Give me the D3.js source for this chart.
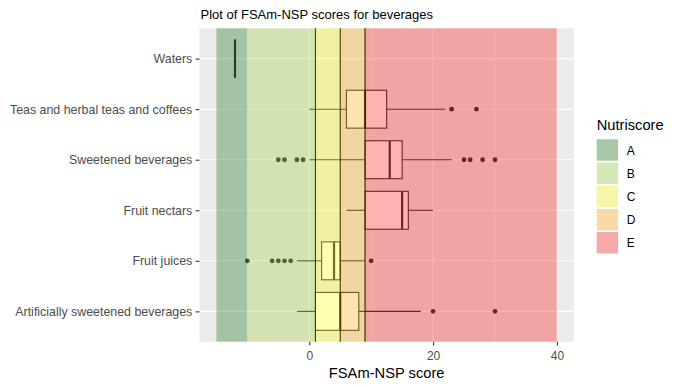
<!DOCTYPE html>
<html>
<head>
<meta charset="utf-8">
<script src="https://cdn.jsdelivr.net/npm/d3@7"></script>
<style>
    body { margin: 0; background: #ffffff; }
    text { font-family: "Liberation Sans", Arial, sans-serif; }
</style>
</head>
<body>
<div class="chart"></div>
<script>
// boxplot summaries (FSAm-NSP score)
var categories = ["Waters", "Teas and herbal teas and coffees", "Sweetened beverages",
    "Fruit nectars", "Fruit juices", "Artificially sweetened beverages"];
var lowWhisker = [-12, 0, 0, 6, -2, -2];
var q1 = [-12, 6, 9, 9, 2, 1];
var median = [-12, 9, 13, 15, 4, 5];
var q3 = [-12, 12.5, 15, 16, 5, 8];
var highWhisker = [-12, 22, 23, 20, 9, 18];
var outliers = [[], [23, 27], [-5, -4, -2, -1, 25, 26, 28, 30], [], [-10, -6, -5, -4, -3, 10], [20, 30]];

// nutriscore bands
var grades = ["A", "B", "C", "D", "E"];
var bandStart = [-15, -10, 1, 5, 9];
var bandEnd = [-10, 1, 5, 9, 40];
var bandColors = ["darkgreen", "yellowgreen", "yellow", "orange", "red"];
var cutLines = [1, 5, 9];

var xTicks = [0, 20, 40];
var xMinor = [-10, 10, 30];

var width = 679, height = 388;
var panel = { left: 199.4, right: 573.9, top: 28.3, bottom: 341.7 };

var svg = d3.select(".chart")
    .append("svg")
    .attr("width", width)
    .attr("height", height);

var x = d3.scaleLinear()
    .domain([-17.75, 42.75])
    .range([panel.left, panel.right]);

var y = d3.scalePoint()
    .domain(categories)
    .range([panel.top, panel.bottom])
    .padding(0.6);

var boxH = y.step() * 0.75;

// panel background + grid
svg.append("rect")
    .attr("x", panel.left).attr("y", panel.top)
    .attr("width", panel.right - panel.left)
    .attr("height", panel.bottom - panel.top)
    .attr("fill", "#ebebeb");

svg.selectAll(".minor")
    .data(xMinor)
    .enter().append("line")
    .attr("x1", d => x(d)).attr("x2", d => x(d))
    .attr("y1", panel.top).attr("y2", panel.bottom)
    .attr("stroke", "#ffffff").attr("stroke-width", 0.55);

svg.selectAll(".major")
    .data(xTicks)
    .enter().append("line")
    .attr("x1", d => x(d)).attr("x2", d => x(d))
    .attr("y1", panel.top).attr("y2", panel.bottom)
    .attr("stroke", "#ffffff").attr("stroke-width", 1.1);

svg.selectAll(".hgrid")
    .data(categories)
    .enter().append("line")
    .attr("x1", panel.left).attr("x2", panel.right)
    .attr("y1", d => y(d)).attr("y2", d => y(d))
    .attr("stroke", "#ffffff").attr("stroke-width", 1.1);

// boxplots
var boxColor = "#333333";
var boxes = svg.selectAll(".box")
    .data(categories)
    .enter().append("g");

boxes.append("line")
    .attr("x1", (d, i) => x(lowWhisker[i])).attr("x2", (d, i) => x(q1[i]))
    .attr("y1", d => y(d)).attr("y2", d => y(d))
    .attr("stroke", boxColor).attr("stroke-width", 1.1);

boxes.append("line")
    .attr("x1", (d, i) => x(q3[i])).attr("x2", (d, i) => x(highWhisker[i]))
    .attr("y1", d => y(d)).attr("y2", d => y(d))
    .attr("stroke", boxColor).attr("stroke-width", 1.1);

boxes.append("rect")
    .attr("x", (d, i) => x(q1[i]))
    .attr("y", d => y(d) - boxH / 2)
    .attr("width", (d, i) => Math.max(x(q3[i]) - x(q1[i]), 0.01))
    .attr("height", boxH)
    .attr("fill", "#ffffff")
    .attr("stroke", boxColor).attr("stroke-width", 1.1);

boxes.append("line")
    .attr("x1", (d, i) => x(median[i])).attr("x2", (d, i) => x(median[i]))
    .attr("y1", d => y(d) - boxH / 2).attr("y2", d => y(d) + boxH / 2)
    .attr("stroke", boxColor).attr("stroke-width", 2.2);

boxes.selectAll("circle")
    .data((d, i) => outliers[i].map(v => ({ cat: d, v: v })))
    .enter().append("circle")
    .attr("cx", d => x(d.v))
    .attr("cy", d => y(d.cat))
    .attr("r", 2.4)
    .attr("fill", boxColor);

// cut lines between grades
svg.selectAll(".cut")
    .data(cutLines)
    .enter().append("line")
    .attr("x1", d => x(d)).attr("x2", d => x(d))
    .attr("y1", panel.top).attr("y2", panel.bottom)
    .attr("stroke", "#000000").attr("stroke-width", 1.1);

// translucent nutriscore bands on top
svg.selectAll(".band")
    .data(grades)
    .enter().append("rect")
    .attr("x", (d, i) => x(bandStart[i]))
    .attr("width", (d, i) => x(bandEnd[i]) - x(bandStart[i]))
    .attr("y", panel.top)
    .attr("height", panel.bottom - panel.top)
    .attr("fill", (d, i) => bandColors[i])
    .attr("opacity", 0.3);

// axes
var xAxis = d3.axisBottom(x).tickValues(xTicks).tickSize(3.7).tickPadding(6);
var gx = svg.append("g")
    .attr("transform", "translate(0," + panel.bottom + ")")
    .call(xAxis);
gx.select(".domain").remove();
gx.selectAll("line").attr("stroke", "#333333").attr("stroke-width", 1.1);
gx.selectAll("text").attr("fill", "#4d4d4d").style("font-size", "12px")
    .style("font-family", "'Liberation Sans', Arial, sans-serif");

var yAxis = d3.axisLeft(y).tickSize(3.7).tickPadding(3.4);
var gy = svg.append("g")
    .attr("transform", "translate(" + panel.left + ",0)")
    .call(yAxis);
gy.select(".domain").remove();
gy.selectAll("line").attr("stroke", "#333333").attr("stroke-width", 1.1);
gy.selectAll("text").attr("fill", "#4d4d4d").style("font-size", "12.4px")
    .style("font-family", "'Liberation Sans', Arial, sans-serif");

// titles
svg.append("text")
    .attr("x", 200.5).attr("y", 19)
    .style("font-size", "13px")
    .attr("fill", "#000000")
    .text("Plot of FSAm-NSP scores for beverages");

svg.append("text")
    .attr("x", (panel.left + panel.right) / 2).attr("y", 377.5)
    .attr("text-anchor", "middle")
    .style("font-size", "14.7px")
    .attr("fill", "#000000")
    .text("FSAm-NSP score");

// legend
var legend = svg.append("g").attr("transform", "translate(596.7,0)");
legend.append("text")
    .attr("x", 0).attr("y", 130)
    .style("font-size", "14.7px")
    .text("Nutriscore");

var keySize = 21.4, keyStep = 23.2, keyTop = 139.3;
var keys = legend.selectAll(".key")
    .data(grades)
    .enter().append("g")
    .attr("transform", (d, i) => "translate(0," + (keyTop + i * keyStep) + ")");

keys.append("rect")
    .attr("width", keySize).attr("height", keySize)
    .attr("fill", "#f2f2f2");
keys.append("rect")
    .attr("width", keySize).attr("height", keySize)
    .attr("fill", (d, i) => bandColors[i])
    .attr("opacity", 0.3);
keys.append("text")
    .attr("x", 30).attr("y", keySize / 2)
    .attr("dy", "0.38em")
    .style("font-size", "12px")
    .text(d => d);
</script>
</body>
</html>
